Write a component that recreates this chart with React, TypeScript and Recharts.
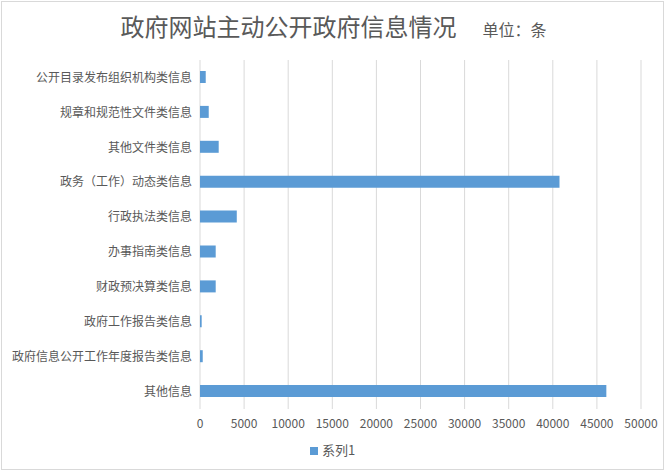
import { Bar, BarChart, CartesianGrid, Legend, XAxis, YAxis } from "recharts";

const categories = [
  "公开目录发布组织机构类信息",
  "规章和规范性文件类信息",
  "其他文件类信息",
  "政务（工作）动态类信息",
  "行政执法类信息",
  "办事指南类信息",
  "财政预决算类信息",
  "政府工作报告类信息",
  "政府信息公开工作年度报告类信息",
  "其他信息",
];

const series1 = [650, 990, 2120, 40760, 4170, 1780, 1780, 190, 310, 46070];

const xTicks = [0, 5000, 10000, 15000, 20000, 25000, 30000, 35000, 40000, 45000, 50000];

const data = categories.map((name, i) => ({ name, value: series1[i] }));

const FONT = '"Noto Sans CJK SC", "Noto Sans", sans-serif';
const TEXT = "#595959";

export default function App() {
  return (
    <div
      style={{
        position: "absolute",
        left: 0,
        top: 0,
        width: 667,
        height: 472,
        background: "#fff",
        fontFamily: FONT,
      }}
    >
      <div
        style={{
          position: "absolute",
          left: 1,
          top: 1,
          width: 661,
          height: 467,
          border: "1px solid #d9d9d9",
        }}
      />
      <div
        style={{
          position: "absolute",
          left: 0,
          top: 8,
          width: 667,
          textAlign: "center",
          color: TEXT,
          whiteSpace: "nowrap",
        }}
      >
        <span style={{ fontSize: 24 }}>政府网站主动公开政府信息情况</span>
        <span style={{ fontSize: 16, marginLeft: 26 }}>单位：条</span>
      </div>
      <BarChart
        width={667}
        height={472}
        data={data}
        layout="vertical"
        margin={{ top: 60, right: 26, bottom: 14, left: 0 }}
        barSize={12}
        style={{ position: "absolute", left: 0, top: 0 }}
      >
        <CartesianGrid horizontal={false} stroke="#d9d9d9" strokeWidth={1} />
        <XAxis
          type="number"
          domain={[0, 50000]}
          ticks={xTicks}
          interval={0}
          axisLine={false}
          tickLine={false}
          tickMargin={4}
          tick={{ fontSize: 12, fill: TEXT, fontFamily: FONT }}
        />
        <YAxis
          type="category"
          dataKey="name"
          width={200}
          interval={0}
          axisLine={false}
          tickLine={false}
          tick={{ fontSize: 12, fill: TEXT, fontFamily: FONT }}
        />
        <Legend
          verticalAlign="bottom"
          iconType="square"
          iconSize={8}
          wrapperStyle={{ top: 440, left: 4, width: 667, fontSize: 13 }}
          formatter={(v) => <span style={{ color: TEXT }}>{v}</span>}
        />
        <Bar dataKey="value" name="系列1" fill="#5b9bd5" isAnimationActive={false} />
      </BarChart>
    </div>
  );
}
